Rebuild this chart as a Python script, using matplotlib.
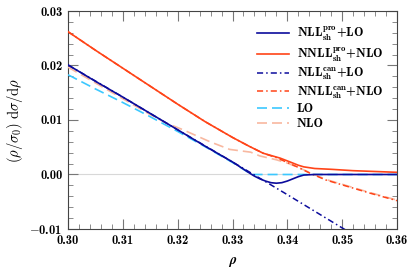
import matplotlib
matplotlib.use("Agg")
import matplotlib.pyplot as plt
from matplotlib.ticker import MultipleLocator, FuncFormatter

plt.rcParams["mathtext.fontset"] = "cm"
plt.rcParams["font.family"] = "cmb10"
plt.rcParams["axes.unicode_minus"] = False

# NLL pro + LO (solid navy)
rho_nll_pro = [0.300, 0.305, 0.310, 0.315, 0.320, 0.325, 0.330, 0.3332, 0.334, 0.335, 0.336,
               0.337, 0.338, 0.339, 0.340, 0.341, 0.342, 0.343, 0.345, 0.350, 0.355, 0.360]
val_nll_pro = [0.0201, 0.0171, 0.0142, 0.0112, 0.0082, 0.0052, 0.0023, 0.0002, -0.0003, -0.0008, -0.0012,
               -0.0015, -0.0016, -0.0015, -0.0012, -0.0008, -0.0004, -0.0001, 0.0000, 0.0000, 0.0000, 0.0000]

# NNLL pro + NLO (solid orange)
rho_nnll_pro = [0.300, 0.305, 0.310, 0.315, 0.320, 0.325, 0.330, 0.333, 0.3356, 0.3387,
                0.3405, 0.342, 0.343, 0.345, 0.348, 0.352, 0.356, 0.360]
val_nnll_pro = [0.0262, 0.0228, 0.0195, 0.0162, 0.0129, 0.0097, 0.0068, 0.0052, 0.0039, 0.0030,
                0.0023, 0.0017, 0.0014, 0.0011, 0.00095, 0.0007, 0.00055, 0.0004]

# NLL can + LO (dash-dot navy)
rho_nll_can = [0.300, 0.310, 0.320, 0.330, 0.340, 0.350, 0.352]
val_nll_can = [0.0201, 0.0142, 0.0082, 0.0023, -0.0037, -0.0098, -0.0110]

# NNLL can + NLO (dash-dot orange)
rho_nnll_can = [0.300, 0.305, 0.310, 0.315, 0.320, 0.325, 0.330, 0.333, 0.3356, 0.338,
                0.340, 0.342, 0.344, 0.347, 0.350, 0.355, 0.360]
val_nnll_can = [0.0262, 0.0228, 0.0195, 0.0162, 0.0129, 0.0097, 0.0068, 0.0052, 0.0039, 0.0031,
                0.0022, 0.0013, 0.0003, -0.0010, -0.0019, -0.0034, -0.0048]

# LO (dashed light blue)
rho_lo = [0.300, 0.305, 0.310, 0.315, 0.320, 0.325, 0.330, 0.3335, 0.340, 0.350, 0.360]
val_lo = [0.0183, 0.0157, 0.0132, 0.0106, 0.0079, 0.0051, 0.0022, 0.0000, 0.0000, 0.0000, 0.0000]

# NLO (dashed salmon)
rho_nlo = [0.300, 0.305, 0.310, 0.315, 0.318, 0.321, 0.3259, 0.3295, 0.3333, 0.335, 0.338,
           0.340, 0.342, 0.344, 0.347, 0.350, 0.355, 0.360]
val_nlo = [0.0197, 0.0168, 0.0139, 0.0110, 0.0094, 0.0082, 0.0060, 0.0046, 0.0041, 0.0034, 0.0027,
           0.0021, 0.0013, 0.0004, -0.0009, -0.0018, -0.0033, -0.0047]

navy = "#0c0c9c"
orange = "#ff4418"
lblue = "#3cc8ff"
salmon = "#f8b8a0"


def fmt(v, pos):
    if abs(v) < 1e-9:
        v = 0.0
    s = "%.2f" % abs(v)
    return ("$-$" + s) if v < 0 else s


def lab(a, sup, b):
    return a + r"$^{\mathbf{" + sup + r"}}_{\mathbf{sh}}$" + b


fig = plt.figure(figsize=(4.16, 2.75), dpi=100)
ax = fig.add_axes([0.1635, 0.1673, 0.7908, 0.7927])

ax.axhline(0.0, color="#d8d8d8", lw=0.8, zorder=1)

ax.plot(rho_nll_pro, val_nll_pro, color=navy, lw=1.2, zorder=6, label=lab("NLL", "pro", "+LO"))
ax.plot(rho_nnll_pro, val_nnll_pro, color=orange, lw=1.2, zorder=5, label=lab("NNLL", "pro", "+NLO"))
ax.plot(rho_nll_can, val_nll_can, color=navy, lw=1.1, dashes=(4, 2, 1, 2), zorder=4,
        label=lab("NLL", "can", "+LO"))
ax.plot(rho_nnll_can, val_nnll_can, color=orange, lw=1.1, dashes=(4, 2, 1, 2), zorder=4,
        label=lab("NNLL", "can", "+NLO"))
ax.plot(rho_lo, val_lo, color=lblue, lw=1.2, dashes=(6, 3), zorder=3, label="LO")
ax.plot(rho_nlo, val_nlo, color=salmon, lw=1.2, dashes=(6, 3), zorder=3, label="NLO")

ax.set_xlim(0.30, 0.36)
ax.set_ylim(-0.01, 0.03)
ax.xaxis.set_major_locator(MultipleLocator(0.01))
ax.xaxis.set_minor_locator(MultipleLocator(0.002))
ax.yaxis.set_major_locator(MultipleLocator(0.01))
ax.yaxis.set_minor_locator(MultipleLocator(0.002))
ax.xaxis.set_major_formatter(FuncFormatter(fmt))
ax.yaxis.set_major_formatter(FuncFormatter(fmt))
ax.tick_params(which="both", direction="in", top=True, right=True, color="#777777",
               labelsize=9, pad=4)
ax.tick_params(which="major", length=7, width=0.8)
ax.tick_params(which="minor", length=3.5, width=0.6)
for sp in ax.spines.values():
    sp.set_color("#444444")
    sp.set_linewidth(0.8)

ax.set_xlabel(r"$\boldsymbol{\rho}$", fontsize=10, labelpad=6)
ax.set_ylabel(r"$(\rho/\sigma_0)\;\mathrm{d}\sigma/\mathrm{d}\rho$", fontsize=10.5, labelpad=3)

leg = ax.legend(loc="upper right", frameon=False, fontsize=9, handlelength=2.6,
                handletextpad=0.6, labelspacing=0.2, borderaxespad=0.7)

fig.savefig("out.png", dpi=100)
